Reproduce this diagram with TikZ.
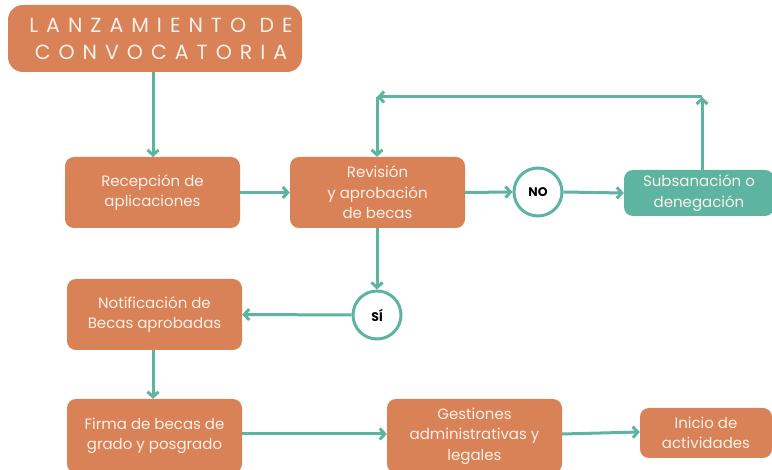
\documentclass[tikz,border=0pt]{standalone}
\usepackage{fontspec}
\setmainfont{Poppins}
\usetikzlibrary{arrows.meta}
\definecolor{orng}{HTML}{D98157}
\definecolor{teal2}{HTML}{5DB4A1}
\definecolor{txt}{HTML}{FCF1E8}
\tikzset{
  box/.style={fill=orng, rounded corners=9pt, inner sep=0pt, text=txt, font=\fontsize{15}{20.5}\selectfont, align=center},
  tbox/.style={box, fill=teal2},
  dec/.style={circle, draw=teal2, line width=3pt, fill=white, minimum size=48pt, inner sep=0pt, font=\bfseries\fontsize{12.5}{14}\selectfont},
  conn/.style={draw=teal2, line width=3pt, -{Straight Barb[length=5pt,width=11pt,line width=3pt]}}
}
\begin{document}
\begin{tikzpicture}[x=1pt,y=-1pt]
\useasboundingbox (0,0) rectangle (772,470);
% title
\node[box, rounded corners=15pt, minimum width=294pt, minimum height=67pt, font=\fontsize{20.5}{27}\selectfont\addfontfeatures{LetterSpace=39}] (title) at (155,38.5) {\hspace*{12pt}LANZAMIENTO DE\\\hspace*{12pt}CONVOCATORIA};
\node[box, minimum width=175pt, minimum height=71pt] (rec) at (152.5,192.5) {Recepción de\\aplicaciones};
\node[box, minimum width=175pt, minimum height=71pt] (rev) at (377.5,192.5) {Revisión\\y aprobación\\de becas};
\node[dec] (no) at (538,192) {NO};
\node[tbox, minimum width=150pt, minimum height=46pt] (sub) at (699,193) {Subsanación o\\denegación};
\node[dec] (si) at (377,315) {SÍ};
\node[box, minimum width=175pt, minimum height=71pt] (not) at (154.5,314.5) {Notificación de\\Becas aprobadas};
\node[box, minimum width=175pt, minimum height=74pt] (fir) at (154.5,436) {Firma de becas de\\grado y posgrado};
\node[box, minimum width=175pt, minimum height=74pt] (ges) at (474.5,436) {Gestiones\\administrativas y\\legales};
\node[box, minimum width=132pt, minimum height=50pt] (ini) at (706,433) {Inicio de\\actividades};
\coordinate (tr) at (702,97);
\coordinate (tl) at (377,97);
% connectors
\draw[conn] (title.south -| 153,0) -- (153,157);
\draw[conn] (rec.east) -- (rev.west);
\draw[conn] (rev.east) -- (no.west);
\draw[conn] (no.east) -- (sub.west);
\draw[conn] (sub.north -| tr) -- (tr);
\draw[conn] (tr) -- (tl);
\draw[conn] (tl) -- (rev.north -| tl);
\draw[conn] (rev.south -| si) -- (si.north);
\draw[conn] (si.west) -- (not.east);
\draw[conn] (not.south -| 153,0) -- (fir.north -| 153,0);
\draw[conn] (fir.east |- 0,434) -- (ges.west |- 0,434);
\draw[conn] (ges.east |- 0,434) -- (ini.west |- 0,432);
\end{tikzpicture}
\end{document}
